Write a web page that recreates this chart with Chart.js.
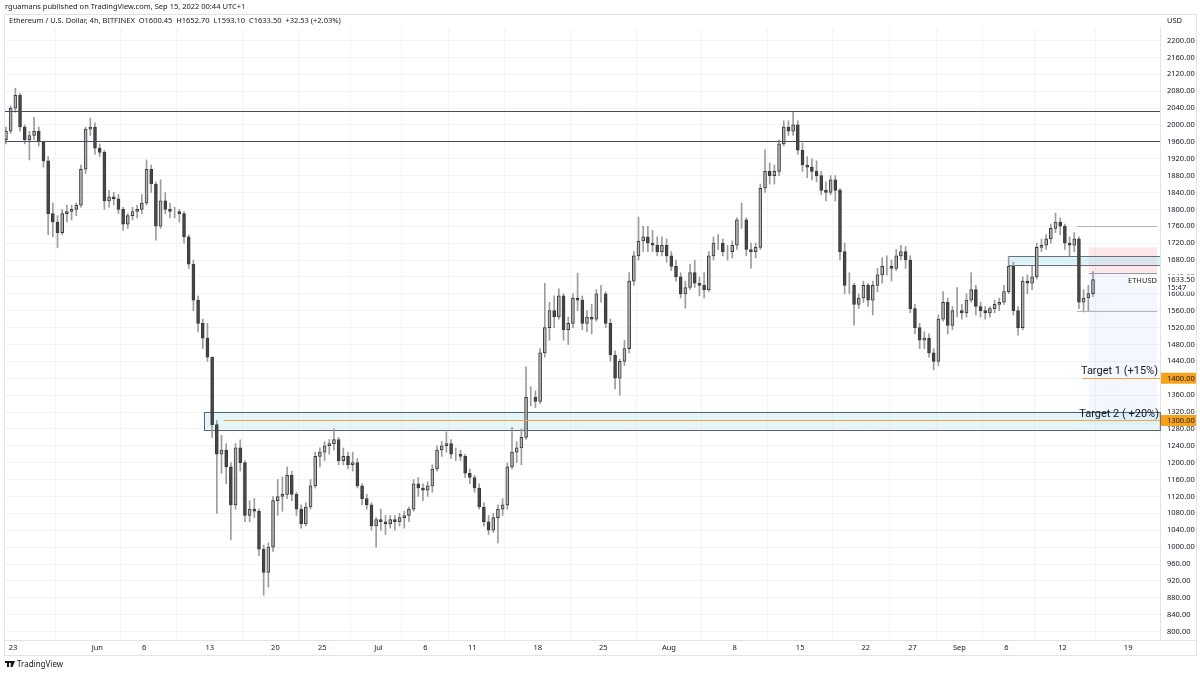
<!DOCTYPE html>
<html>
<head>
<meta charset="utf-8">
<script src="https://cdn.jsdelivr.net/npm/chart.js@4.4.1/dist/chart.umd.min.js"></script>
<style>
  html,body{margin:0;padding:0;background:#fff;}
  #wrap{position:relative;width:1200px;height:675px;overflow:hidden;}
  canvas{position:absolute;left:0;top:0;}
</style>
</head>
<body>
<div id="wrap"><canvas id="c" width="1200" height="675"></canvas></div>
<script>
// ---------- DATA (12h candles, starting May 22 2022) ----------
const firstOpen = 1965;
const highs = [
 1995,2045, 2087,2075, 2000,1985, 2018,1995, 1962,1925, 1815,1785, 1800,1810, 1810,1815,
 1905,1995, 2016,2005, 1955,1940, 1845,1840, 1835,1805, 1790,1805, 1810,1835, 1917,1905,
 1865,1870, 1840,1815, 1805,1800, 1795,1740, 1680,1595, 1540,1530, 1450,1300, 1265,1245,
 1200,1245, 1254,1205, 1110,1115, 1090,1005, 1010,1120, 1160,1166, 1190,1180, 1130,1100,
 1105,1160, 1225,1235, 1250,1255, 1280,1260, 1235,1225, 1225,1210, 1150,1125, 1105,1070,
 1090,1075, 1075,1075, 1080,1085, 1095,1160, 1165,1150, 1155,1195, 1240,1250, 1273,1255,
 1235,1230, 1220,1185, 1170,1150, 1105,1075, 1080,1100, 1115,1200, 1284,1250, 1280,1427,
 1380,1370, 1470,1625, 1580,1595, 1612,1600, 1545,1600, 1649,1595, 1560,1575, 1610,1620,
 1605,1540, 1465,1445, 1490,1650, 1700,1782, 1760,1760, 1750,1735, 1735,1730, 1700,1680,
 1650,1630, 1670,1680, 1640,1650, 1700,1735, 1740,1730, 1715,1725, 1780,1815, 1780,1720,
 1720,1860, 1941,1910, 1905,1965, 2010,2010, 2030,2010, 1957,1925, 1920,1915, 1890,1865,
 1880,1880, 1850,1720, 1650,1625, 1600,1630, 1625,1630, 1660,1685, 1690,1680, 1705,1715,
 1712,1690, 1575,1530, 1510,1505, 1470,1550, 1605,1590, 1570,1615, 1575,1600, 1650,1620,
 1580,1570, 1570,1585, 1590,1620, 1688,1675, 1570,1640, 1645,1665, 1720,1730, 1740,1765,
 1791,1780, 1765,1735, 1745,1735, 1610,1620, 1652.7
];
const lows = [
 1955,1980, 2030,1985, 1955,1917, 1965,1950, 1900,1740, 1735,1709, 1740,1770, 1775,1785,
 1805,1885, 1975,1930, 1925,1800, 1805,1810, 1790,1750, 1755,1775, 1780,1790, 1810,1840,
 1727,1755, 1790,1780, 1780,1770, 1720,1660, 1560,1510, 1470,1440, 1260,1080, 1175,1150,
 1017,1090, 1180,1060, 1060,1070, 980,886, 905,990, 1075,1085, 1115,1110, 1075,1045,
 1050,1090, 1140,1190, 1205,1220, 1230,1195, 1195,1185, 1180,1140, 1100,1090, 1040,1000,
 1040,1030, 1045,1040, 1050,1045, 1060,1085, 1120,1110, 1120,1130, 1180,1215, 1225,1210,
 1205,1205, 1165,1150, 1130,1090, 1050,1030, 1035,1010, 1075,1090, 1185,1200, 1195,1255,
 1335,1330, 1340,1450, 1490,1520, 1540,1490, 1480,1520, 1560,1515, 1510,1505, 1535,1580,
 1520,1440, 1375,1360, 1430,1460, 1620,1680, 1700,1700, 1700,1690, 1690,1675, 1655,1630,
 1590,1566, 1610,1615, 1595,1590, 1605,1680, 1705,1690, 1680,1685, 1705,1755, 1690,1661,
 1685,1705, 1840,1860, 1860,1880, 1950,1975, 1975,1930, 1890,1875, 1870,1865, 1835,1820,
 1835,1820, 1680,1600, 1600,1526, 1565,1580, 1570,1550, 1605,1625, 1645,1630, 1655,1680,
 1660,1555, 1505,1470, 1470,1450, 1420,1430, 1535,1505, 1515,1545, 1540,1545, 1580,1550,
 1545,1540, 1545,1555, 1560,1575, 1600,1550, 1502,1515, 1600,1610, 1635,1700, 1705,1720,
 1745,1740, 1705,1690, 1700,1565, 1557,1560, 1593.1
];
const closes = [
 1985,2040, 2070,1995, 1965,1975, 1985,1960, 1915,1790, 1770,1745, 1790,1795, 1800,1810,
 1895,1990, 1995,1945, 1935,1820, 1830,1825, 1800,1765, 1785,1795, 1800,1815, 1895,1860,
 1760,1820, 1800,1795, 1795,1790, 1735,1670, 1585,1530, 1495,1450, 1290,1220, 1230,1190,
 1100,1235, 1200,1075, 1090,1085, 995,940, 1000,1110, 1120,1125, 1170,1125, 1090,1055,
 1095,1145, 1215,1225, 1240,1245, 1255,1205, 1215,1195, 1200,1145, 1115,1100, 1050,1065,
 1060,1055, 1065,1060, 1070,1075, 1090,1150, 1140,1135, 1145,1185, 1230,1240, 1245,1220,
 1220,1215, 1175,1165, 1140,1095, 1060,1040, 1070,1090, 1100,1190, 1225,1235, 1260,1355,
 1355,1345, 1460,1520, 1560,1545, 1595,1515, 1530,1590, 1585,1530, 1545,1540, 1600,1600,
 1530,1455, 1400,1440, 1470,1630, 1690,1725, 1735,1720, 1715,1700, 1715,1690, 1665,1640,
 1600,1615, 1650,1625, 1620,1610, 1690,1720, 1720,1700, 1700,1715, 1775,1775, 1705,1700,
 1710,1850, 1890,1880, 1890,1955, 1995,1985, 2000,1940, 1905,1900, 1890,1880, 1845,1840,
 1870,1845, 1700,1620, 1620,1575, 1590,1620, 1585,1620, 1645,1665, 1665,1660, 1690,1700,
 1680,1565, 1520,1490, 1495,1460, 1440,1540, 1580,1525, 1560,1560, 1555,1585, 1610,1570,
 1560,1555, 1565,1575, 1580,1605, 1665,1560, 1520,1630, 1625,1640, 1710,1715, 1730,1755,
 1770,1760, 1720,1715, 1730,1580, 1590,1600.45, 1633.5
];
// time axis: days counted from May 22 2022 00:00
const xTickDays   = [1, 10, 15, 22, 29, 34, 40, 45, 50, 57, 64, 71, 78, 85, 92, 97, 102, 107, 113, 120];
const xTickLabels = ['23','Jun','6','13','20','25','Jul','6','11','18','25','Aug','8','15','22','27','Sep','6','12','19'];
const yTickValues = [];
for (let v = 800; v <= 2200; v += 40) yTickValues.push(v);

// drawings (price levels / start days)
const resistanceLines = [2033, 1962];
const demandZone = {lo: 1279, hi: 1321, fromDay: 21.4};
const zoneMidLine = {price: 1300, fromDay: 23.5};
const upperZone = {lo: 1669, hi: 1689, fromDay: 107.2};
const rangeLines = [{price: 1760, fromDay: 114.55}, {price: 1560, fromDay: 114.55}];
const position = {fromDay: 115.8, stop: 1710, entry: 1650, target: 1290};
const targetLines = [{price: 1400, fromDay: 115.1, label: 'Target 1 (+15%)'}, {price: 1300, fromDay: 23.5, label: 'Target 2 ( +20%)'}];
const lastPrice = 1633.5;

// ---------- build datasets ----------
const wickData = [], bodyData = [];
let prevClose = firstOpen;
for (let i = 0; i < closes.length; i++) {
  const t = i * 0.5 + 0.25;
  wickData.push({x: t, y: [lows[i], highs[i]]});
  bodyData.push({x: t, y: [prevClose, closes[i]]});
  prevClose = closes[i];
}

const FONT = "'Noto Sans', 'DejaVu Sans', sans-serif";
const overlay = {
  id: 'overlay',
  beforeDatasetsDraw(chart) {
    const {ctx, chartArea: a, scales: {x, y}} = chart;
    ctx.save();
    // position tool
    const px0 = x.getPixelForValue(position.fromDay), px1 = a.right - 3;
    ctx.fillStyle = 'rgba(242,54,69,0.12)';
    ctx.fillRect(px0, y.getPixelForValue(position.stop), px1 - px0, y.getPixelForValue(position.entry) - y.getPixelForValue(position.stop));
    ctx.fillStyle = 'rgba(41,98,255,0.05)';
    ctx.fillRect(px0, y.getPixelForValue(position.entry), px1 - px0, y.getPixelForValue(position.target) - y.getPixelForValue(position.entry));
    // demand zone
    const zx = x.getPixelForValue(demandZone.fromDay);
    const zt = y.getPixelForValue(demandZone.hi), zb = y.getPixelForValue(demandZone.lo);
    ctx.fillStyle = 'rgba(178,230,242,0.35)';
    ctx.fillRect(zx, zt, a.right - zx, zb - zt);
    ctx.strokeStyle = '#5d606b'; ctx.lineWidth = 1;
    ctx.strokeRect(Math.round(zx) + 0.5, Math.round(zt) + 0.5, a.right - zx, Math.round(zb - zt));
    // upper zone
    const ux = x.getPixelForValue(upperZone.fromDay);
    const ut = y.getPixelForValue(upperZone.hi), ub = y.getPixelForValue(upperZone.lo);
    ctx.fillStyle = 'rgba(178,230,242,0.45)';
    ctx.fillRect(ux, ut, a.right - ux, ub - ut);
    ctx.strokeStyle = '#6b6e78';
    ctx.beginPath();
    ctx.moveTo(ux, Math.round(ut) + 0.5); ctx.lineTo(a.right, Math.round(ut) + 0.5);
    ctx.moveTo(ux, Math.round(ub) + 0.5); ctx.lineTo(a.right, Math.round(ub) + 0.5);
    ctx.moveTo(Math.round(ux) + 0.5, ut); ctx.lineTo(Math.round(ux) + 0.5, ub);
    ctx.stroke();
    ctx.restore();
  },
  afterDatasetsDraw(chart) {
    const {ctx, chartArea: a, scales: {x, y}} = chart;
    ctx.save();
    // resistance lines
    ctx.strokeStyle = '#4a4d57'; ctx.lineWidth = 1.2;
    resistanceLines.forEach(p => {
      const py = Math.round(y.getPixelForValue(p)) + 0.5;
      ctx.beginPath(); ctx.moveTo(a.left, py); ctx.lineTo(a.right, py); ctx.stroke();
    });
    // range lines
    ctx.strokeStyle = '#b2b5be'; ctx.lineWidth = 1;
    rangeLines.forEach(r => {
      const py = Math.round(y.getPixelForValue(r.price)) + 0.5;
      ctx.beginPath(); ctx.moveTo(x.getPixelForValue(r.fromDay), py); ctx.lineTo(a.right - 3, py); ctx.stroke();
    });
    // entry line
    ctx.strokeStyle = '#9598a1';
    const ey = Math.round(y.getPixelForValue(position.entry)) + 0.5;
    ctx.beginPath(); ctx.moveTo(x.getPixelForValue(position.fromDay), ey); ctx.lineTo(a.right - 3, ey); ctx.stroke();
    // target lines (orange)
    ctx.strokeStyle = '#f7a43a'; ctx.lineWidth = 1.2;
    targetLines.forEach(t => {
      const py = Math.round(y.getPixelForValue(t.price)) + 0.5;
      ctx.beginPath(); ctx.moveTo(x.getPixelForValue(t.fromDay), py); ctx.lineTo(a.right, py); ctx.stroke();
    });
    // target texts
    ctx.fillStyle = '#131722';
    ctx.font = "11px Roboto, 'DejaVu Sans', sans-serif";
    ctx.textAlign = 'right'; ctx.textBaseline = 'alphabetic';
    ctx.fillText(targetLines[0].label, a.right - 2, y.getPixelForValue(targetLines[0].price) - 4);
    ctx.fillText(targetLines[1].label, a.right - 1, y.getPixelForValue(demandZone.hi) + 5);
    // ETHUSD label
    const ly = y.getPixelForValue(lastPrice);
    ctx.fillStyle = '#ffffff';
    ctx.fillRect(a.right - 30, ly - 4, 29, 11);
    ctx.fillStyle = '#131722';
    ctx.font = "7.5px " + FONT; ctx.textAlign = 'right'; ctx.textBaseline = 'middle';
    ctx.fillText('ETHUSD', a.right - 3, ly + 1.5);
    ctx.restore();
  },
  afterDraw(chart) {
    const {ctx, chartArea: a, scales: {y}} = chart;
    ctx.save();
    ctx.font = "7.5px " + FONT; ctx.textBaseline = 'middle'; ctx.textAlign = 'left';
    // axis price tags
    [1400, 1300].forEach(p => {
      const py = y.getPixelForValue(p);
      ctx.fillStyle = '#f7a21b';
      ctx.fillRect(a.right + 1, py - 5.5, 36, 11);
      ctx.fillStyle = '#131722';
      ctx.fillText(p.toFixed(2), a.right + 7, py + 0.5);
    });
    const ly = y.getPixelForValue(lastPrice);
    ctx.fillStyle = '#ffffff';
    ctx.fillRect(a.right + 1, ly - 5, 38, 17);
    ctx.fillStyle = '#131722';
    ctx.fillText(lastPrice.toFixed(2), a.right + 7, ly + 0.5);
    ctx.fillText('15:47', a.right + 7, ly + 8);
    // header + footer texts
    ctx.fillStyle = '#131722';
    ctx.fillText('rguamans published on TradingView.com, Sep 15, 2022 00:44 UTC+1', 5, 7);
    ctx.fillText('Ethereum / U.S. Dollar, 4h, BITFINEX  O1600.45  H1652.70  L1593.10  C1633.50  +32.53 (+2.03%)', 9, 21);
    ctx.fillText('USD', a.right + 7, 21);
    // frame
    ctx.strokeStyle = '#e0e3eb'; ctx.lineWidth = 1;
    ctx.strokeRect(4.5, 14.5, 1192, 641);
    ctx.beginPath(); ctx.moveTo(4.5, 640.5); ctx.lineTo(1196.5, 640.5); ctx.stroke();
    // footer logo
    ctx.fillStyle = '#131722';
    ctx.fillRect(5, 661, 6, 2); ctx.fillRect(7, 661, 2, 6);
    ctx.beginPath(); ctx.moveTo(11, 661); ctx.lineTo(15, 661); ctx.lineTo(12.5, 667); ctx.lineTo(10.5, 667); ctx.closePath(); ctx.fill();
    ctx.font = "8px " + FONT;
    ctx.fillText('TradingView', 17, 664.5);
    ctx.restore();
  }
};

new Chart(document.getElementById('c'), {
  type: 'bar',
  data: {
    datasets: [
      {
        label: 'wick', data: wickData, backgroundColor: '#9c9c9c',
        barThickness: 1, grouped: false, order: 2
      },
      {
        label: 'body', data: bodyData,
        backgroundColor: c => (c.raw && c.raw.y[1] >= c.raw.y[0]) ? '#b4b4b4' : '#474747',
        borderColor: '#3a3a3a', borderWidth: 1, borderSkipped: false,
        barThickness: 3, grouped: false, order: 1
      }
    ]
  },
  options: {
    responsive: false, animation: false, devicePixelRatio: 1,
    layout: {padding: {left: 5, top: 28, right: 0, bottom: 20}},
    plugins: {legend: {display: false}, tooltip: {enabled: false}},
    scales: {
      x: {
        type: 'linear', min: 0.146, max: 123.4, offset: false,
        afterBuildTicks: s => { s.ticks = xTickDays.map(v => ({value: v})); },
        afterFit: s => { s.height = 15; },
        ticks: {
          autoSkip: false, maxRotation: 0, padding: 3, color: '#131722',
          font: {size: 7.5, family: FONT},
          callback: (v, i) => xTickLabels[i]
        },
        grid: {color: '#f3f4f7', drawTicks: false},
        border: {display: false}
      },
      y: {
        position: 'right', min: 780, max: 2229.6,
        afterBuildTicks: s => { s.ticks = yTickValues.map(v => ({value: v})); },
        afterFit: s => { s.width = 40; },
        ticks: {
          autoSkip: false, padding: 7, color: '#131722',
          font: {size: 7.5, family: FONT},
          callback: v => Number(v).toFixed(2)
        },
        grid: {color: '#f3f4f7', drawTicks: false},
        border: {display: true, color: '#e0e3eb'}
      }
    }
  },
  plugins: [overlay]
});
</script>
</body>
</html>
